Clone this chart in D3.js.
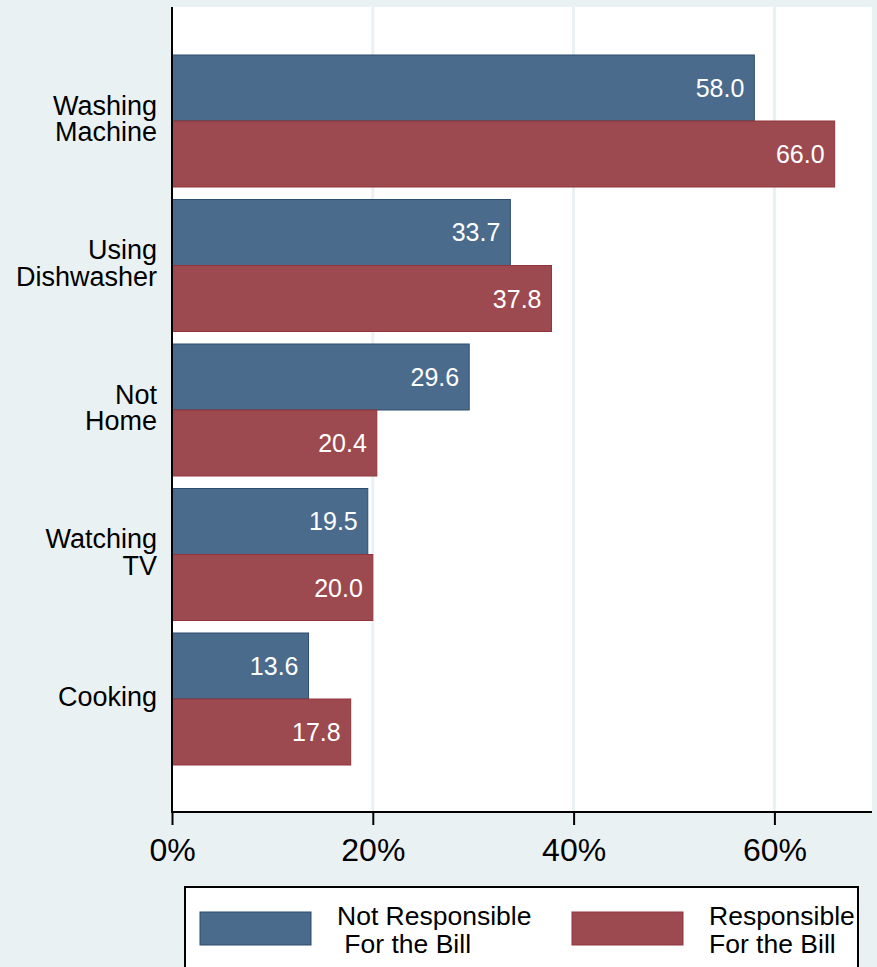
<!DOCTYPE html>
<html><head><meta charset="utf-8">
<script src="https://cdn.jsdelivr.net/npm/d3@7"></script>
<style>body{margin:0;background:#EAF1F3;}svg{display:block;font-family:"Liberation Sans",Arial,sans-serif;}</style>
</head><body>
<script>
const categories = [["Washing","Machine"],["Using","Dishwasher"],["Not","Home"],["Watching","TV"],["Cooking"]];
const notResponsible = [58.0, 33.7, 29.6, 19.5, 13.6];
const responsible = [66.0, 37.8, 20.4, 20.0, 17.8];
const seriesNames = [["Not Responsible"," For the Bill"],["Responsible","For the Bill"]];
const xTicks = [0, 20, 40, 60];

const W = 877, H = 967;
const svg = d3.select("body").append("svg").attr("width", W).attr("height", H);
svg.append("rect").attr("width", W).attr("height", H).attr("fill", "#EAF1F3");

const plot = {left:172, right:872, top:7, bottom:812};
svg.append("rect").attr("x", plot.left).attr("y", plot.top)
  .attr("width", plot.right-plot.left).attr("height", plot.bottom-plot.top).attr("fill", "#fff");

const x = d3.scaleLinear().domain([0, 69.72]).range([plot.left, plot.right]);
const keys = categories.map((c,i)=>i);
const y = d3.scaleBand().domain(keys).range([48.75, 771.25]).paddingInner(0.0865).paddingOuter(0.04325);
const ySub = d3.scaleBand().domain([0,1]).range([0, y.bandwidth()]);

// gridlines
svg.append("g").selectAll("line").data(xTicks.filter(t=>t>0)).join("line")
  .attr("x1", d=>x(d)).attr("x2", d=>x(d)).attr("y1", plot.top).attr("y2", plot.bottom)
  .attr("stroke", "#EAF1F3").attr("stroke-width", 3);

const series = [
  {vals: notResponsible, fill:"#4A6B8C", stroke:"#2C4D6E"},
  {vals: responsible, fill:"#9C4A50", stroke:"#93343C"}
];
series.forEach((s, si) => {
  const g = svg.append("g");
  g.selectAll("rect").data(s.vals).join("rect")
    .attr("x", x(0)).attr("y", (d,i)=>y(i)+ySub(si))
    .attr("width", d=>x(d)-x(0)).attr("height", ySub.bandwidth())
    .attr("fill", s.fill).attr("stroke", s.stroke).attr("stroke-width", 1);
  g.selectAll("text").data(s.vals).join("text")
    .attr("x", d=>x(d)-10).attr("y", (d,i)=>y(i)+ySub(si)+ySub.bandwidth()/2)
    .attr("dy", "0.36em").attr("text-anchor", "end").attr("fill", "#fff")
    .attr("font-size", 25).text(d=>d.toFixed(1));
});

// category labels
const catG = svg.append("g");
categories.forEach((lines, i) => {
  const cy = y(i) + y.bandwidth()/2;
  const lh = 26.5;
  const t = catG.append("text").attr("text-anchor", "end").attr("font-size", 27).attr("fill", "#000");
  lines.forEach((ln, j) => {
    t.append("tspan").attr("x", 157)
      .attr("y", cy + 7 + (j - (lines.length-1)/2)*lh).text(ln);
  });
});

// axes
svg.append("line").attr("x1", plot.left).attr("x2", plot.left).attr("y1", plot.top).attr("y2", plot.bottom)
  .attr("stroke", "#000").attr("stroke-width", 2);
const xAxis = d3.axisBottom(x).tickValues(xTicks).tickSize(13).tickFormat(d=>d+"%");
const ax = svg.append("g").attr("transform", `translate(0,${plot.bottom})`).call(xAxis);
ax.select(".domain").remove();
svg.append("line").attr("x1", plot.left-1).attr("x2", plot.right).attr("y1", plot.bottom).attr("y2", plot.bottom)
  .attr("stroke", "#000").attr("stroke-width", 2);
ax.selectAll(".tick line").attr("stroke", "#000").attr("stroke-width", 2);
ax.selectAll(".tick text").attr("font-size", 32).attr("font-family", "Liberation Sans, Arial, sans-serif")
  .attr("fill", "#000").attr("y", 49).attr("dy", "0");

// legend
const leg = svg.append("g");
leg.append("rect").attr("x", 185).attr("y", 887).attr("width", 673).attr("height", 100)
  .attr("fill", "#fff").attr("stroke", "#000").attr("stroke-width", 2);
const legX = [200, 572];
series.forEach((s, si) => {
  leg.append("rect").attr("x", legX[si]).attr("y", 912).attr("width", 111).attr("height", 33)
    .attr("fill", s.fill).attr("stroke", s.stroke).attr("stroke-width", 1);
  const t = leg.append("text").attr("font-size", 26.5).attr("fill", "#000");
  seriesNames[si].forEach((ln, j) => {
    t.append("tspan").attr("x", legX[si]+137).attr("y", 925 + j*28).style("white-space","pre").text(ln);
  });
});
</script>
</body></html>
